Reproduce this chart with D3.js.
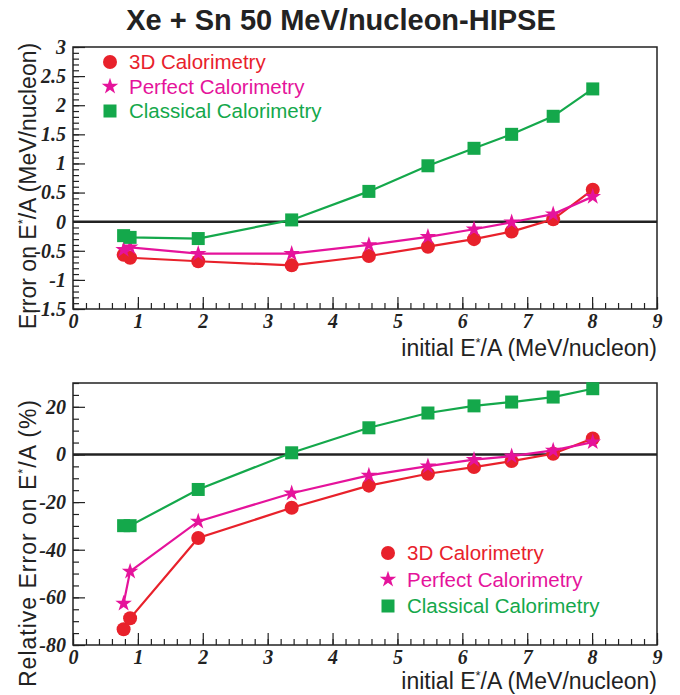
<!DOCTYPE html>
<html>
<head>
    <meta charset="utf-8">
    <title>Xe + Sn 50 MeV/nucleon-HIPSE</title>
    <script src="https://d3js.org/d3.v7.min.js"></script>
    <style>
        body { margin: 0; background: #fff; }
        .tick text {
            font-family: "Liberation Serif", "Times New Roman", serif;
            font-weight: bold;
            font-style: italic;
            font-size: 20px;
            fill: #222;
        }
        .tick line { stroke: #222; stroke-width: 1.2px; }
        .label {
            font-family: "Liberation Sans", Arial, sans-serif;
            font-size: 23px;
            fill: #222;
        }
        .legend-text {
            font-family: "Liberation Sans", Arial, sans-serif;
            font-size: 20.5px;
        }
    </style>
</head>
<body>
    <div id="chart"></div>
    <script>
        const width = 680;
        const height = 695;

        // x positions of the simulated points (initial E*/A)
        const energies = [0.78, 0.88, 1.93, 3.37, 4.56, 5.47, 6.18, 6.76, 7.40, 8.01];

        // absolute error on E*/A (MeV/nucleon)
        const abs3D        = [-0.57, -0.62, -0.68, -0.75, -0.59, -0.43, -0.30, -0.17, 0.04, 0.55];
        const absPerfect   = [-0.48, -0.44, -0.55, -0.55, -0.40, -0.26, -0.13, -0.01, 0.13, 0.43];
        const absClassical = [-0.24, -0.27, -0.29, 0.03, 0.52, 0.96, 1.26, 1.50, 1.81, 2.28];

        // relative error on E*/A (%)
        const rel3D        = [-73.4, -68.8, -35.1, -22.4, -13.1, -8.1, -5.3, -2.8, 0.3, 6.7];
        const relPerfect   = [-62.6, -49.1, -28.1, -16.3, -8.8, -4.9, -2.2, -0.7, 1.7, 5.2];
        const relClassical = [-29.9, -29.9, -14.7, 0.7, 11.2, 17.4, 20.4, 22.0, 24.1, 27.6];

        const seriesNames = ["3D Calorimetry", "Perfect Calorimetry", "Classical Calorimetry"];
        const seriesColors = ["#e8212b", "#e5139b", "#14a84b"];
        const seriesShapes = ["circle", "star", "square"];

        const xTicks = d3.range(0, 10, 1);
        const topYTicks = [-1.5, -1, -0.5, 0, 0.5, 1, 1.5, 2, 2.5, 3];
        const bottomYTicks = [-80, -60, -40, -20, 0, 20];

        const svg = d3.select("#chart")
            .append("svg")
            .attr("width", width)
            .attr("height", height);

        svg.append("text")
            .attr("x", 341)
            .attr("y", 30)
            .attr("text-anchor", "middle")
            .style("font-family", "Liberation Sans, Arial, sans-serif")
            .style("font-weight", "bold")
            .style("font-size", "29px")
            .style("fill", "#222")
            .text("Xe + Sn 50 MeV/nucleon-HIPSE");

        function drawMarker(g, shape, cx, cy, color) {
            if (shape === "circle") {
                g.append("circle").attr("cx", cx).attr("cy", cy).attr("r", 7).attr("fill", color);
            } else if (shape === "square") {
                g.append("rect").attr("x", cx - 6.5).attr("y", cy - 6.5)
                    .attr("width", 13).attr("height", 13).attr("fill", color);
            } else {
                g.append("path")
                    .attr("d", d3.symbol(d3.symbolStar, 85)())
                    .attr("transform", "translate(" + cx + "," + cy + ")")
                    .attr("fill", color);
            }
        }

        function drawPanel(opts) {
            const x = d3.scaleLinear().domain([0, 9]).range([73, 657]);
            const y = d3.scaleLinear().domain(opts.yDomain).range([opts.bottom, opts.top]);
            const g = svg.append("g");

            // minor ticks
            g.append("g")
                .attr("transform", "translate(0," + opts.bottom + ")")
                .call(d3.axisBottom(x).tickValues(d3.range(0, 9.01, 0.2)).tickSize(-6).tickFormat(""))
                .call(a => a.select(".domain").remove());
            g.append("g")
                .attr("transform", "translate(73,0)")
                .call(d3.axisLeft(y).tickValues(d3.range(opts.yDomain[0], opts.yDomain[1] + 1e-6, opts.yMinor)).tickSize(-6).tickFormat(""))
                .call(a => a.select(".domain").remove());

            // major ticks with labels
            g.append("g")
                .attr("transform", "translate(0," + opts.bottom + ")")
                .call(d3.axisBottom(x).tickValues(xTicks).tickSize(-12).tickPadding(5).tickFormat(d => String(d)))
                .call(a => a.select(".domain").remove());
            g.append("g")
                .attr("transform", "translate(73,0)")
                .call(d3.axisLeft(y).tickValues(opts.yTicks).tickSize(-12).tickPadding(7).tickFormat(d => String(d)))
                .call(a => a.select(".domain").remove());

            // frame
            g.append("rect")
                .attr("x", 73).attr("y", opts.top)
                .attr("width", 657 - 73).attr("height", opts.bottom - opts.top)
                .attr("fill", "none").attr("stroke", "#222").attr("stroke-width", 1.5);

            // zero line
            g.append("line")
                .attr("x1", 73).attr("x2", 657)
                .attr("y1", y(0)).attr("y2", y(0))
                .attr("stroke", "#222").attr("stroke-width", 2.5);

            const line = d3.line().x(d => x(d[0])).y(d => y(d[1]));

            opts.series.forEach((vals, i) => {
                const pts = energies.map((e, k) => [e, vals[k]]);
                g.append("path")
                    .datum(pts)
                    .attr("d", line)
                    .attr("fill", "none")
                    .attr("stroke", seriesColors[i])
                    .attr("stroke-width", 2.2);
                pts.forEach(p => drawMarker(g, seriesShapes[i], x(p[0]), y(p[1]), seriesColors[i]));
            });

            // legend
            seriesNames.forEach((name, i) => {
                const ly = opts.legendY + i * opts.legendStep;
                drawMarker(g, seriesShapes[i], opts.legendX, ly, seriesColors[i]);
                g.append("text")
                    .attr("class", "legend-text")
                    .attr("x", opts.legendX + 19)
                    .attr("y", ly + 7)
                    .attr("fill", seriesColors[i])
                    .text(name);
            });

            // x title
            const xt = g.append("text")
                .attr("class", "label")
                .attr("x", 657)
                .attr("y", opts.bottom + opts.xTitleOffset)
                .attr("text-anchor", "end");
            xt.append("tspan").text("initial E");
            xt.append("tspan").attr("dy", -9).style("font-size", "13px").text("*");
            xt.append("tspan").attr("dy", 9).text("/A (MeV/nucleon)");

            // y title
            const yt = g.append("text")
                .attr("class", "label")
                .attr("transform", "translate(36," + opts.yTitleCenter + ") rotate(-90)")
                .attr("text-anchor", "middle")
                .style("letter-spacing", opts.yTitleSpacing + "px");
            yt.append("tspan").text(opts.yTitle[0]);
            yt.append("tspan").attr("dy", -9).style("font-size", "13px").text("*");
            yt.append("tspan").attr("dy", 9).text(opts.yTitle[1]);
        }

        drawPanel({
            top: 47, bottom: 309,
            yDomain: [-1.5, 3], yTicks: topYTicks, yMinor: 0.1,
            series: [abs3D, absPerfect, absClassical],
            legendX: 110, legendY: 62, legendStep: 24.5,
            xTitleOffset: 47,
            yTitle: ["Error on E", "/A (MeV/nucleon)"], yTitleCenter: 186, yTitleSpacing: 0
        });

        drawPanel({
            top: 383, bottom: 645,
            yDomain: [-80, 30], yTicks: bottomYTicks, yMinor: 5,
            series: [rel3D, relPerfect, relClassical],
            legendX: 388, legendY: 553, legendStep: 26.5,
            xTitleOffset: 44,
            yTitle: ["Relative Error on E", "/A (%)"], yTitleCenter: 543, yTitleSpacing: 1
        });
    </script>
</body>
</html>
